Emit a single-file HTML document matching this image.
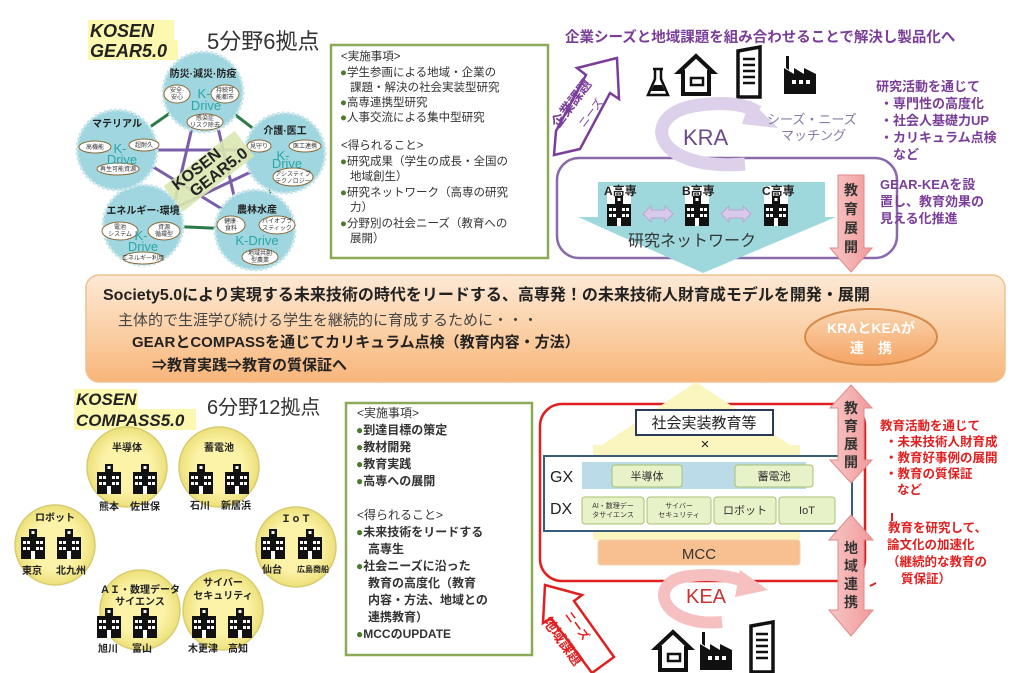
<!DOCTYPE html>
<html><head><meta charset="utf-8"><style>
html,body{margin:0;padding:0;background:#fff;}
svg{display:block;font-family:"Liberation Sans","Noto Sans CJK JP",sans-serif;}
.b{font-weight:bold;}
</style></head><body>
<svg width="1024" height="673" viewBox="0 0 1024 673" xmlns="http://www.w3.org/2000/svg">
<defs>
<linearGradient id="og" x1="0" y1="0" x2="0" y2="1"><stop offset="0" stop-color="#fde9d6"/><stop offset="0.5" stop-color="#fbd1a8"/><stop offset="1" stop-color="#f8b57a"/></linearGradient>
<linearGradient id="og2" x1="0" y1="0" x2="0" y2="1"><stop offset="0" stop-color="#fad5b0"/><stop offset="1" stop-color="#f5a463"/></linearGradient>
<linearGradient id="pk" x1="0" y1="0" x2="1" y2="0"><stop offset="0" stop-color="#f7c6c6"/><stop offset="1" stop-color="#f19a9a"/></linearGradient>
<radialGradient id="yc"><stop offset="0.6" stop-color="#fdf3a8"/><stop offset="1" stop-color="#ece07a"/></radialGradient>
<g id="sch"><rect x="-12" y="-10" width="24" height="22" fill="#111"/><rect x="-4" y="-18" width="8" height="9" fill="#111"/><rect x="-1.5" y="-16" width="3" height="3" fill="#fff"/>
<rect x="-10" y="-6" width="3" height="3" fill="#fff"/><rect x="-6" y="-6" width="3" height="3" fill="#fff"/><rect x="3" y="-6" width="3" height="3" fill="#fff"/><rect x="7" y="-6" width="3" height="3" fill="#fff"/>
<rect x="-10" y="0" width="3" height="3" fill="#fff"/><rect x="-6" y="0" width="3" height="3" fill="#fff"/><rect x="3" y="0" width="3" height="3" fill="#fff"/><rect x="7" y="0" width="3" height="3" fill="#fff"/><rect x="-2" y="4" width="4" height="8" fill="#fff"/></g>
<g id="house"><path d="M-17,0 L0,-16 L17,0 L13,0 L13,22 L-13,22 L-13,0 Z" fill="#fff" stroke="#111" stroke-width="4"/><rect x="-5" y="6" width="12" height="7" fill="none" stroke="#111" stroke-width="2.5"/></g>
<g id="bldg"><path d="M-12,-22 L10,-26 L10,24 L-12,24 Z" fill="#fff" stroke="#111" stroke-width="3.5"/><path d="M-7,-14 h12 M-7,-8 h12 M-7,-2 h12 M-7,4 h12 M-7,10 h12" stroke="#111" stroke-width="2.5"/></g>
<g id="fact"><path d="M-16,22 L-16,-4 L-6,2 L-6,-4 L4,2 L4,-4 L16,2 L16,22 Z M-14,-4 L-14,-16 L-11,-16 L-11,-2 Z" fill="#111"/><rect x="-8" y="8" width="4" height="4" fill="#fff"/><rect x="-1" y="8" width="4" height="4" fill="#fff"/><rect x="6" y="8" width="4" height="4" fill="#fff"/></g>
</defs>

<!-- ================= TOP LEFT GEAR ================= -->
<rect x="88" y="20" width="86" height="20" fill="#fcf8b0"/><rect x="88" y="40" width="90" height="20" fill="#fcf8b0"/>
<text x="90" y="37" font-size="18" font-style="italic" class="b" fill="#222">KOSEN</text>
<text x="90" y="57" font-size="18" font-style="italic" class="b" fill="#222">GEAR5.0</text>
<text x="207" y="49" font-size="22" fill="#333">5分野6拠点</text>
<g stroke="#2c7a48" stroke-width="3" fill="none"><path d="M203,90 L285,153 L255,230 L143,225 L117,150 Z"/></g>
<g stroke="#7b5ea8" stroke-width="3"><path d="M195,115 L175,200 M215,115 L235,200 M150,150 L250,150 M150,165 L240,220 M255,170 L160,215"/></g>
<g fill="#9fd6df" stroke="#c9e6ea" stroke-width="3" stroke-dasharray="3 2">
<circle cx="203" cy="92" r="40"/><circle cx="285" cy="153" r="40"/><circle cx="255" cy="230" r="40"/><circle cx="143" cy="225" r="40"/><circle cx="117" cy="150" r="40"/></g>
<g font-size="10" class="b" fill="#222" text-anchor="middle">
<text x="203" y="77">防災·減災·防疫</text><text x="285" y="134">介護·医工</text><text x="257" y="213">農林水産</text><text x="143" y="214">エネルギー·環境</text><text x="117" y="127">マテリアル</text></g>
<g fill="#fff" stroke="#8a6a3a" stroke-width="1">
<ellipse cx="177" cy="94" rx="13" ry="9"/><ellipse cx="225" cy="94" rx="14" ry="9"/><ellipse cx="205" cy="122" rx="18" ry="8"/>
<ellipse cx="259" cy="146" rx="12" ry="6"/><ellipse cx="305" cy="146" rx="16" ry="6"/><ellipse cx="293" cy="177" rx="20" ry="9"/>
<ellipse cx="231" cy="225" rx="14" ry="9"/><ellipse cx="277" cy="225" rx="18" ry="9"/><ellipse cx="260" cy="257" rx="18" ry="8"/>
<ellipse cx="120" cy="231" rx="18" ry="9"/><ellipse cx="164" cy="231" rx="16" ry="9"/><ellipse cx="143" cy="258" rx="20" ry="6"/>
<ellipse cx="95" cy="147" rx="16" ry="6"/><ellipse cx="144" cy="145" rx="15" ry="6"/><ellipse cx="118" cy="169" rx="21" ry="6"/></g>
<g font-size="6" fill="#333" text-anchor="middle">
<text x="177" y="92">安全·</text><text x="177" y="99">安心</text><text x="225" y="92">持続可</text><text x="225" y="99">能都市</text><text x="205" y="120">感染症</text><text x="205" y="127">リスク除去</text>
<text x="259" y="148">見守り</text><text x="305" y="148">医工連携</text><text x="293" y="176">アシスティブ</text><text x="293" y="183">テクノロジー</text>
<text x="231" y="223">健康·</text><text x="231" y="230">食料</text><text x="277" y="223">バイオプラ</text><text x="277" y="230">スティック</text><text x="260" y="255">地域共創</text><text x="260" y="262">型農業</text>
<text x="120" y="229">電池</text><text x="120" y="236">システム</text><text x="164" y="229">資源</text><text x="164" y="236">循環型</text><text x="143" y="260">エネルギー利用</text>
<text x="95" y="149">高機能</text><text x="144" y="147">超耐久</text><text x="118" y="171">再生可能資源</text></g>
<g font-size="13" fill="#2aa7a7" text-anchor="middle">
<text x="204" y="98">K-</text><text x="206" y="110">Drive</text><text x="283" y="160">K-</text><text x="287" y="168">Drive</text>
<text x="257" y="245">K-Drive</text><text x="141" y="240">K-</text><text x="143" y="251">Drive</text><text x="120" y="153">K-</text><text x="122" y="164">Drive</text></g>
<g transform="translate(200,168) rotate(-38)"><rect x="-40" y="-8" width="90" height="32" fill="#d9e7b0" opacity="0.9"/>
<text x="-32" y="4" font-size="16" class="b" fill="#222">KOSEN</text><text x="-22" y="20" font-size="16" class="b" fill="#222">GEAR5.0</text></g>

<rect x="331" y="45" width="217" height="213" fill="#fff" stroke="#8aaa55" stroke-width="2.5"/>
<g font-size="11.5" fill="#333">
<text x="341" y="60">&lt;実施事項&gt;</text>
<text x="340" y="76"><tspan fill="#4a7a2a">●</tspan>学生参画による地域・企業の</text>
<text x="350" y="91">課題・解決の社会実装型研究</text>
<text x="340" y="106"><tspan fill="#4a7a2a">●</tspan>高専連携型研究</text>
<text x="340" y="121"><tspan fill="#4a7a2a">●</tspan>人事交流による集中型研究</text>
<text x="341" y="149">&lt;得られること&gt;</text>
<text x="340" y="165"><tspan fill="#4a7a2a">●</tspan>研究成果（学生の成長・全国の</text>
<text x="350" y="180">地域創生）</text>
<text x="340" y="196"><tspan fill="#4a7a2a">●</tspan>研究ネットワーク（高専の研究</text>
<text x="350" y="211">力）</text>
<text x="340" y="227"><tspan fill="#4a7a2a">●</tspan>分野別の社会ニーズ（教育への</text>
<text x="350" y="242">展開）</text></g>

<!-- ================= TOP RIGHT KRA ================= -->
<text x="565" y="42" font-size="14.5" class="b" fill="#7a3e9a">企業シーズと地域課題を組み合わせることで解決し製品化へ</text>
<rect x="557" y="158" width="340" height="100" rx="22" fill="#fff" stroke="#8a6aa8" stroke-width="2.5"/>
<path d="M617,58 L619,99 L610,93 L580,149 L554,155 L556,131 L586,75 L577,68 Z" fill="#fff" stroke="#7a3e9a" stroke-width="2.5"/>
<g transform="translate(586,112) rotate(-53)" text-anchor="middle"><text x="-2" y="-12" font-size="14" class="b" fill="#7a3e9a">企業課題</text><text x="2" y="8" font-size="11" fill="#7a3e9a">ニーズ</text></g>
<g transform="translate(658,83)"><path d="M-5,-14 L5,-14 M-3,-14 L-3,-4 L-10,12 L10,12 L3,-4 L3,-14" fill="none" stroke="#111" stroke-width="2.5"/><path d="M-7,8 L-4,2 L4,2 L7,8 Z" fill="#111"/></g>
<use href="#house" x="696" y="72"/><use href="#bldg" x="750" y="73"/><use href="#fact" x="800" y="72"/>
<path d="M745,164 C650,172 638,112 700,105 C730,101 748,106 758,112" fill="none" stroke="#ddd0ea" stroke-width="13"/>
<path d="M750,100 L778,128 L742,124 Z" fill="#ddd0ea"/>
<text x="683" y="145" font-size="22" fill="#6a4a8a">KRA</text>
<text x="767" y="124" font-size="13" fill="#8a7aa8">シーズ・ニーズ</text>
<text x="781" y="140" font-size="13" fill="#8a7aa8">マッチング</text>
<path d="M598,182 L825,182 L825,217 L836,217 L703,273 L578,217 L598,217 Z" fill="#9ed8dc"/>
<rect x="607" y="186" width="24" height="38" fill="#fff"/><rect x="685" y="186" width="24" height="38" fill="#fff"/><rect x="764" y="186" width="24" height="38" fill="#fff"/>
<g font-size="12" class="b" fill="#222"><text x="604" y="195">A高専</text><text x="682" y="195">B高専</text><text x="762" y="195">C高専</text></g>
<use href="#sch" x="619" y="214"/><use href="#sch" x="697" y="214"/><use href="#sch" x="776" y="214"/>
<path d="M643,214 l8,-8 v4 h14 v-4 l8,8 l-8,8 v-4 h-14 v4 Z M721,214 l8,-8 v4 h14 v-4 l8,8 l-8,8 v-4 h-14 v4 Z" fill="#d8c8ea" stroke="#b8a8d0"/>
<text x="628" y="246" font-size="16" fill="#333">研究ネットワーク</text>
<path d="M838,175 L864,175 L864,248 L872,248 L851,272 L830,248 L838,248 Z" fill="url(#pk)" stroke="#e08a8a"/>
<g font-size="14" class="b" fill="#333" text-anchor="middle"><text x="851" y="195">教</text><text x="851" y="214">育</text><text x="851" y="233">展</text><text x="851" y="252">開</text></g>
<g font-size="13" class="b" fill="#7a3e9a">
<text x="876" y="91">研究活動を通じて</text><text x="880" y="108">・専門性の高度化</text><text x="880" y="125">・社会人基礎力UP</text><text x="880" y="142">・カリキュラム点検</text><text x="893" y="159">など</text>
<text x="880" y="189">GEAR-KEAを設</text><text x="880" y="206">置し、教育効果の</text><text x="880" y="223">見える化推進</text></g>

<!-- ================= MIDDLE ORANGE BOX ================= -->
<rect x="86" y="275" width="919" height="107" rx="13" fill="url(#og)" stroke="#f0c090" stroke-width="1.5"/>
<text x="103" y="300" font-size="16" class="b" fill="#222">Society5.0により実現する未来技術の時代をリードする、高専発！の未来技術人財育成モデルを開発・展開</text>
<text x="118" y="325" font-size="15" fill="#444">主体的で生涯学び続ける学生を継続的に育成するために・・・</text>
<text x="132" y="347" font-size="15" class="b" fill="#222">GEARとCOMPASSを通じてカリキュラム点検（教育内容・方法）</text>
<text x="152" y="370" font-size="15" class="b" fill="#222">⇒教育実践⇒教育の質保証へ</text>
<ellipse cx="871" cy="337" rx="66" ry="28" fill="url(#og2)" stroke="#d68a4a" stroke-width="2"/>
<text x="871" y="333" font-size="14" class="b" fill="#fff" text-anchor="middle">KRAとKEAが</text>
<text x="871" y="353" font-size="14" class="b" fill="#fff" text-anchor="middle">連　携</text>

<!-- ================= BOTTOM LEFT COMPASS ================= -->
<rect x="74" y="389" width="64" height="20" fill="#fcf8b0"/><rect x="74" y="409" width="122" height="21" fill="#fcf8b0"/>
<text x="76" y="405" font-size="17" font-style="italic" class="b" fill="#222">KOSEN</text>
<text x="76" y="426" font-size="17" font-style="italic" class="b" fill="#222">COMPASS5.0</text>
<text x="207" y="414" font-size="20" fill="#333">6分野12拠点</text>
<g fill="url(#yc)" stroke="#d8cc70" stroke-width="1.5">
<circle cx="127" cy="467" r="40"/><circle cx="219" cy="467" r="40"/><circle cx="296" cy="547" r="40"/><circle cx="55" cy="545" r="40"/><circle cx="140" cy="610" r="40"/><circle cx="223" cy="610" r="40"/></g>
<g font-size="10" class="b" fill="#222" text-anchor="middle">
<text x="127" y="451">半導体</text><text x="219" y="451">蓄電池</text><text x="296" y="522">ＩｏＴ</text><text x="55" y="521">ロボット</text>
<text x="140" y="593">ＡＩ・数理データ</text><text x="140" y="605">サイエンス</text><text x="223" y="586">サイバー</text><text x="223" y="599">セキュリティ</text>
<text x="109" y="510">熊本</text><text x="145" y="510">佐世保</text><text x="200" y="509">石川</text><text x="236" y="509">新居浜</text>
<text x="272" y="573">仙台</text><text x="313" y="572" font-size="8">広島商船</text><text x="32" y="574">東京</text><text x="71" y="574">北九州</text>
<text x="108" y="652">旭川</text><text x="142" y="652">富山</text><text x="203" y="652">木更津</text><text x="238" y="652">高知</text></g>
<use href="#sch" x="109" y="482"/><use href="#sch" x="145" y="482"/><use href="#sch" x="201" y="482"/><use href="#sch" x="237" y="482"/>
<use href="#sch" x="273" y="547"/><use href="#sch" x="310" y="547"/><use href="#sch" x="33" y="547"/><use href="#sch" x="69" y="547"/>
<use href="#sch" x="109" y="626"/><use href="#sch" x="145" y="626"/><use href="#sch" x="204" y="626"/><use href="#sch" x="240" y="626"/>

<rect x="346" y="403" width="186" height="252" fill="#fff" stroke="#8aaa55" stroke-width="2.5"/>
<g font-size="12" fill="#333" class="b">
<text x="357" y="417" font-weight="normal">&lt;実施事項&gt;</text>
<text x="356" y="434"><tspan fill="#4a7a2a">●</tspan>到達目標の策定</text>
<text x="356" y="451"><tspan fill="#4a7a2a">●</tspan>教材開発</text>
<text x="356" y="468"><tspan fill="#4a7a2a">●</tspan>教育実践</text>
<text x="356" y="485"><tspan fill="#4a7a2a">●</tspan>高専への展開</text>
<text x="357" y="519" font-weight="normal">&lt;得られること&gt;</text>
<text x="356" y="536"><tspan fill="#4a7a2a">●</tspan>未来技術をリードする</text>
<text x="368" y="553">高専生</text>
<text x="356" y="570"><tspan fill="#4a7a2a">●</tspan>社会ニーズに沿った</text>
<text x="368" y="587">教育の高度化（教育</text>
<text x="368" y="604">内容・方法、地域との</text>
<text x="368" y="621">連携教育）</text>
<text x="356" y="638"><tspan fill="#4a7a2a">●</tspan>MCCのUPDATE</text></g>

<!-- ================= BOTTOM RIGHT KEA ================= -->
<rect x="540" y="404" width="325" height="177" rx="22" fill="#fff" stroke="#e02020" stroke-width="2.5"/>
<path d="M593,453 L593,445 L602,445 L696,382 L790,445 L800,445 L800,540 L593,540 Z" fill="#fbf6c0"/>
<rect x="636" y="410" width="137" height="25" fill="#fff" stroke="#2a3a5a" stroke-width="2"/>
<text x="704" y="428" font-size="15" fill="#222" text-anchor="middle">社会実装教育等</text>
<text x="705" y="449" font-size="15" fill="#222" text-anchor="middle">×</text>
<rect x="544" y="456" width="308" height="75" fill="#fff" stroke="#3a5a7a" stroke-width="2"/>
<rect x="582" y="462" width="224" height="27" fill="#bcdbe8"/>
<text x="550" y="482" font-size="16" fill="#222">GX</text><text x="550" y="514" font-size="16" fill="#222">DX</text>
<g fill="#e8f2c8" stroke="#a8c070" stroke-width="1">
<rect x="612" y="465" width="70" height="22" rx="3"/><rect x="735" y="465" width="78" height="22" rx="3"/>
<rect x="582" y="497" width="62" height="27" rx="3"/><rect x="647" y="497" width="64" height="27" rx="3"/><rect x="714" y="497" width="62" height="27" rx="3"/><rect x="779" y="497" width="56" height="27" rx="3"/></g>
<g font-size="11" fill="#333" text-anchor="middle">
<text x="647" y="480">半導体</text><text x="774" y="480">蓄電池</text>
<text x="613" y="508" font-size="7">AI・数理デー</text><text x="613" y="517" font-size="7">タサイエンス</text>
<text x="679" y="508" font-size="7">サイバー</text><text x="679" y="517" font-size="7">セキュリティ</text>
<text x="745" y="514">ロボット</text><text x="807" y="514">IoT</text></g>
<rect x="598" y="540" width="202" height="25" rx="3" fill="#f8c090" stroke="#f0d0b0"/>
<text x="699" y="559" font-size="15" fill="#333" text-anchor="middle">MCC</text>
<path d="M722,622 C660,628 645,580 690,576 C715,573 735,577 748,583" fill="none" stroke="#f6c0c0" stroke-width="12"/>
<path d="M740,570 L768,590 L735,597 Z" fill="#f6c0c0"/>
<text x="686" y="603" font-size="20" fill="#d03030">KEA</text>
<path d="M545,585 L582,595 L574,601 L614,657 L592,673 L551,618 L543,623 Z" fill="#fff" stroke="#e02020" stroke-width="2.5"/>
<g transform="translate(578,630) rotate(54)" text-anchor="middle"><text x="-4" y="2" font-size="11" fill="#e02020" class="b">ニーズ</text><text x="0" y="24" font-size="14" fill="#e02020" class="b">地域課題</text></g>
<use href="#house" x="673" y="648"/><use href="#fact" x="716" y="648"/><use href="#bldg" x="763" y="648"/>
<path d="M851,385 L872,408 L864,408 L864,460 L872,460 L851,483 L830,460 L838,460 L838,408 L830,408 Z" fill="url(#pk)" stroke="#e08a8a"/>
<g font-size="14" class="b" fill="#333" text-anchor="middle"><text x="851" y="413">教</text><text x="851" y="431">育</text><text x="851" y="449">展</text><text x="851" y="467">開</text></g>
<path d="M851,515 L873,540 L864,540 L864,610 L873,610 L851,636 L829,610 L838,610 L838,540 L829,540 Z" fill="url(#pk)" stroke="#e08a8a"/>
<g font-size="14" class="b" fill="#333" text-anchor="middle"><text x="851" y="553">地</text><text x="851" y="571">域</text><text x="851" y="589">連</text><text x="851" y="607">携</text></g>
<g font-size="12.5" class="b" fill="#e02020">
<text x="880" y="430">教育活動を通じて</text><text x="885" y="446">・未来技術人財育成</text><text x="885" y="462">・教育好事例の展開</text><text x="885" y="478">・教育の質保証</text><text x="897" y="494">など</text>
<text x="888" y="532">教育を研究して、</text><text x="887" y="549">論文化の加速化</text><text x="887" y="566">（継続的な教育の</text><text x="901" y="583">質保証）</text></g>
<path d="M892,513 v8 M870,586 l6,-3" stroke="#e02020" stroke-width="2"/>
</svg>
</body></html>
